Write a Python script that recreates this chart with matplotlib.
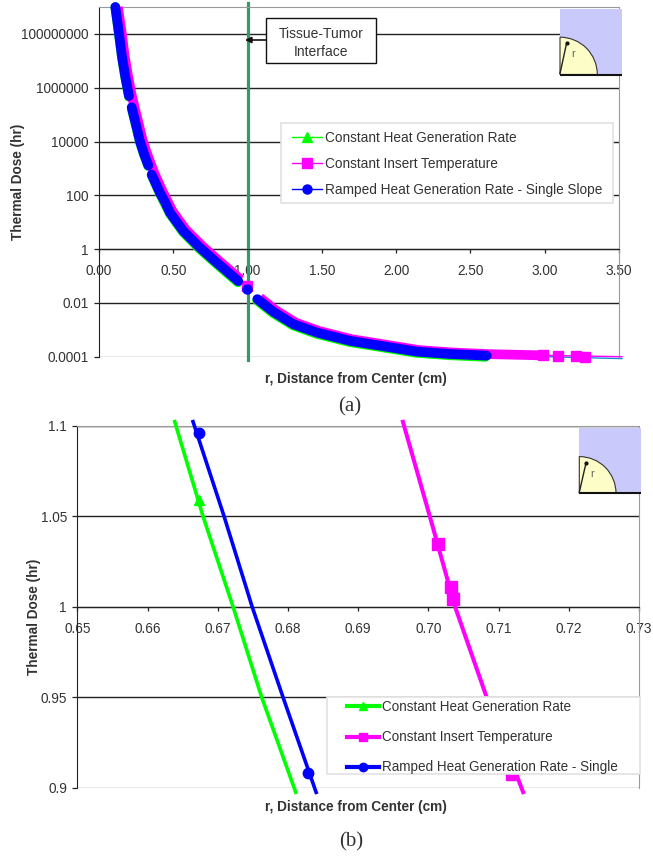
import numpy as np
import matplotlib
matplotlib.use("Agg")
import matplotlib.pyplot as plt
from matplotlib.lines import Line2D
from matplotlib.patches import Rectangle, Wedge
from matplotlib.ticker import NullLocator

plt.rcParams['font.family'] = ['Liberation Sans', 'DejaVu Sans']

W, H = 653, 858
GREEN, MAGENTA, BLUE = "#00ff00", "#ff00ff", "#0000ff"
LABELS_A = ["Constant Heat Generation Rate", "Constant Insert Temperature",
            "Ramped Heat Generation Rate - Single Slope"]
LABELS_B = ["Constant Heat Generation Rate", "Constant Insert Temperature",
            "Ramped Heat Generation Rate - Single"]

# panel (a); log10 of dose, nan marks a gap in the markers
r_a_blue = [0.110, 0.1346, 0.1548, 0.177, 0.2019, np.nan, 0.2201, 0.249, 0.276, 0.3049, 0.3318, np.nan,
            0.3547, 0.4106, 0.4442, 0.4779, 0.5674, 0.6798, 0.7922, 0.9376, np.nan,
            1.0655, 1.1732, 1.3078, 1.4653, 1.6894, 1.9136, 2.1384, 2.3625, 2.6095]
log_a_blue = [9.0, 8.01, 7.15, 6.41, 5.69, np.nan, 5.27, 4.62, 4.0, 3.51, 3.11, np.nan,
              2.77, 2.09, 1.75, 1.35, 0.67, 0.05, -0.5, -1.19, np.nan,
              -1.86, -2.33, -2.79, -3.10, -3.41, -3.61, -3.81, -3.90, -3.96]
r_a_magenta = [0.127, 0.152, 0.172, 0.194, 0.219, 0.237, 0.266, 0.293, 0.322, 0.349, 0.372, 0.428,
               0.495, 0.584, 0.697, 0.809, 0.955, np.nan,
               1.083, 1.19, 1.325, 1.482, 1.706, 1.931, 2.155, 2.38, 2.627, 2.98]
log_a_magenta = [9.0, 8.07, 7.2, 6.47, 5.75, 5.33, 4.68, 4.06, 3.57, 3.17, 2.83, 2.145,
                 1.405, 0.725, 0.105, -0.445, -1.135, np.nan,
                 -1.805, -2.275, -2.735, -3.045, -3.355, -3.555, -3.755, -3.845, -3.905, -3.95]
r_a_green = [0.109, 0.134, 0.154, 0.176, 0.201, np.nan, 0.219, 0.248, 0.275, 0.304, 0.331, np.nan,
             0.354, 0.409, 0.476, 0.565, 0.678, 0.79, 0.935, np.nan,
             1.063, 1.17, 1.305, 1.462, 1.686, 1.911, 2.135, 2.36, 2.60]
log_a_green = [9.0, 7.98, 7.12, 6.38, 5.66, np.nan, 5.24, 4.59, 3.97, 3.48, 3.08, np.nan,
               2.74, 2.06, 1.32, 0.63, 0.0, -0.55, -1.24, np.nan,
               -1.91, -2.38, -2.84, -3.15, -3.46, -3.66, -3.86, -3.95, -4.01]
r_a_squares = [0.996, 2.99, 3.09, 3.21, 3.27]
log_a_squares = [-1.39, -3.95, -3.97, -3.99, -4.0]
r_a_dots = [0.9962]
log_a_dots = [-1.49]
r_a_tail = [2.62, 3.0, 3.52]
log_a_tail_magenta = [-3.9, -3.95, -4.0]
log_a_tail_blue = [-3.96, -4.0, -4.07]
interface_r = [1.0, 1.0]
interface_log = [-4.11, 9.14]
xticks_a = [0.0, 0.5, 1.0, 1.5, 2.0, 2.5, 3.0, 3.5]
yticks_a = [1e8, 1e6, 1e4, 100, 1, 0.01, 0.0001]
ylabels_a = ["100000000", "1000000", "10000", "100", "1", "0.01", "0.0001"]

# panel (b)
dose_b = [1.1032, 1.05, 1.0, 0.95, 0.8965]
r_b_green = [0.6638, 0.6679, 0.67218, 0.67626, 0.6812]
r_b_blue = [0.6664, 0.6709, 0.6749, 0.6793, 0.6841]
r_b_magenta = [0.6963, 0.7002, 0.7038, 0.7083, 0.7136]
r_b_green_pts, dose_b_green_pts = [0.6673], [1.059]
r_b_blue_pts, dose_b_blue_pts = [0.6673, 0.6828], [1.096, 0.9083]
r_b_magenta_pts, dose_b_magenta_pts = [0.7014, 0.7032, 0.7035, 0.7119], [1.0347, 1.0107, 1.0043, 0.9077]
xticks_b = [0.65, 0.66, 0.67, 0.68, 0.69, 0.70, 0.71, 0.72, 0.73]
yticks_b = [1.1, 1.05, 1.0, 0.95, 0.9]
ylabels_b = ["1.1", "1.05", "1", "0.95", "0.9"]


def px_axes(fig, left, top, right, bottom):
    return fig.add_axes([left / W, 1 - bottom / H, (right - left) / W, (bottom - top) / H])


def style_axes(ax, xticks, yticks, ylabels):
    ax.set_xticks(xticks)
    ax.set_xticklabels([f"{t:.2f}" for t in xticks])
    ax.set_yticks(yticks)
    ax.set_yticklabels(ylabels)
    ax.yaxis.set_minor_locator(NullLocator())
    ax.xaxis.set_minor_locator(NullLocator())
    ax.set_axisbelow(True)
    ax.grid(axis='y', color="#222222", linewidth=1.0)
    ax.yaxis.get_gridlines()[-1].set_color("#8a8a8a")
    ax.spines['bottom'].set_position(('data', 1))
    ax.spines['bottom'].set_color("#222222")
    ax.spines['left'].set_color("#222222")
    for side in ['top', 'right']:
        ax.spines[side].set_color("#9a9a9a")
    ax.tick_params(axis='x', length=3, width=0.9, pad=8, labelsize=9.8, labelcolor="#333333", color="#222222")
    ax.tick_params(axis='y', length=3.5, width=0.9, pad=4, labelsize=9.8, labelcolor="#333333", color="#222222")


def draw_inset(ov, left, top, right, bottom, radius, tip):
    ov.add_patch(Rectangle((left, top), right - left, bottom - top, facecolor="#c9c9fb", edgecolor="none"))
    # y axis is flipped, so the quarter sits between -90 and 0 degrees
    ov.add_patch(Wedge((left, bottom), radius, -90, 0, facecolor="#fdfdc8", edgecolor="#333333", linewidth=0.8))
    ov.plot([left, right], [bottom, bottom], color="#111111", linewidth=1.5, solid_capstyle='butt')
    ov.plot([left, tip[0]], [bottom - 1, tip[1]], color="#222222", linewidth=1.0)
    ov.plot(tip[0], tip[1], 'o', color="#111111", markersize=2)
    ov.text(tip[0] + 6, tip[1] + 11, "r", fontsize=8, color="#666666", ha='center', va='center')


def draw_legend(ov, box, handles, labels, anchor, spacing, handlelen, size):
    ov.add_patch(Rectangle((box[0], box[1]), box[2] - box[0], box[3] - box[1], facecolor="white",
                           edgecolor="#e2e2e2", linewidth=1.2))
    leg = ov.legend(handles, labels, loc='upper left', bbox_to_anchor=anchor, bbox_transform=ov.transData,
                    frameon=False, borderpad=0, borderaxespad=0, fontsize=size, labelspacing=spacing,
                    handlelength=handlelen, handletextpad=0.2, labelcolor="#333333")
    return leg


fig = plt.figure(figsize=(W / 100, H / 100), dpi=100, facecolor="white")

# panel (a)
ax_a = px_axes(fig, 99, 7, 619, 356.7)
ax_a.set_yscale('log')
ax_a.set_xlim(0, 3.5)
ax_a.set_ylim(1e-4, 1e9)
style_axes(ax_a, xticks_a, yticks_a, ylabels_a)
ax_a.plot(interface_r, 10.0 ** np.array(interface_log), color="#36996b", linewidth=2.3, clip_on=False, zorder=2)
ax_a.plot(r_a_tail, 10.0 ** np.array(log_a_tail_blue), color="#1a8fd0", linewidth=1, clip_on=False, zorder=3)
ax_a.plot(r_a_tail, 10.0 ** np.array(log_a_tail_magenta), color=MAGENTA, linewidth=1, clip_on=False, zorder=3)
ax_a.plot(r_a_green, 10.0 ** np.array(log_a_green), color=GREEN, linewidth=6.8, clip_on=False,
          solid_capstyle='round', zorder=3)
ax_a.plot(r_a_magenta, 10.0 ** np.array(log_a_magenta), color=MAGENTA, linewidth=7, clip_on=False,
          solid_capstyle='butt', zorder=4)
ax_a.plot(r_a_squares, 10.0 ** np.array(log_a_squares), 's', color=MAGENTA, markersize=7.2, clip_on=False, zorder=4)
ax_a.plot(r_a_blue, 10.0 ** np.array(log_a_blue), color=BLUE, linewidth=7, clip_on=False,
          solid_capstyle='round', zorder=5)
ax_a.plot(r_a_dots, 10.0 ** np.array(log_a_dots), 'o', color=BLUE, markersize=6.5, clip_on=False, zorder=5)

# panel (b)
ax_b = px_axes(fig, 77.3, 425.7, 639, 787.7)
ax_b.set_xlim(0.65, 0.73)
ax_b.set_ylim(0.9, 1.1)
style_axes(ax_b, xticks_b, yticks_b, ylabels_b)
ax_b.plot(r_b_green, dose_b, color=GREEN, linewidth=2.6, clip_on=False, solid_capstyle='butt', zorder=3)
ax_b.plot(r_b_blue, dose_b, color=BLUE, linewidth=2.6, clip_on=False, solid_capstyle='butt', zorder=3)
ax_b.plot(r_b_magenta, dose_b, color=MAGENTA, linewidth=2.9, clip_on=False, solid_capstyle='butt', zorder=3)
ax_b.plot(r_b_green_pts, dose_b_green_pts, '^', color=GREEN, markersize=7.5, clip_on=False, zorder=4)
ax_b.plot(r_b_blue_pts, dose_b_blue_pts, 'o', color=BLUE, markersize=7.5, clip_on=False, zorder=4)
ax_b.plot(r_b_magenta_pts, dose_b_magenta_pts, 's', color=MAGENTA, markersize=8, clip_on=False, zorder=4)

# overlay in image pixels for the boxes, legends, insets and captions
ov = fig.add_axes([0, 0, 1, 1], zorder=10)
ov.set_xlim(0, W)
ov.set_ylim(H, 0)
ov.axis('off')

draw_inset(ov, 560, 8.7, 621.7, 74.5, 37.3, (566.7, 42.7))
draw_inset(ov, 579.3, 427.7, 640.7, 493.3, 36.7, (586, 463))

ov.add_patch(Rectangle((266, 18.3), 109.7, 44.4, facecolor="white", edgecolor="#111111", linewidth=1.0))
ov.text(321, 43, "Tissue-Tumor\nInterface", fontsize=10, color="#333333", ha='center', va='center', linespacing=1.3)
ov.annotate("", xy=(245, 40), xytext=(266, 40),
            arrowprops=dict(arrowstyle='-|>', color="#111111", linewidth=1.2, mutation_scale=9, shrinkA=0, shrinkB=0))

handles_a = [Line2D([], [], color=GREEN, marker='^', markersize=6.5, linewidth=1),
             Line2D([], [], color=MAGENTA, marker='s', markersize=6.5, linewidth=1),
             Line2D([], [], color=BLUE, marker='o', markersize=6.5, linewidth=1)]
handles_b = [Line2D([], [], color=GREEN, marker='^', markersize=6, linewidth=3),
             Line2D([], [], color=MAGENTA, marker='s', markersize=6, linewidth=3),
             Line2D([], [], color=BLUE, marker='o', markersize=6, linewidth=3)]
leg_a = draw_legend(ov, (281.3, 122.7, 613.3, 203.3), handles_a, LABELS_A, (292, 131), 0.88, 2.2, 9.85)
ov.add_artist(leg_a)
draw_legend(ov, (326.7, 697.3, 640, 774), handles_b, LABELS_B, (346.7, 700), 1.2, 2.4, 9.75)

ov.text(18, 182, "Thermal Dose (hr)", fontsize=9.8, fontweight='bold', color="#333333", rotation=90, ha='center', va='center')
ov.text(34, 617, "Thermal Dose (hr)", fontsize=9.8, fontweight='bold', color="#333333", rotation=90, ha='center', va='center')
ov.text(356, 378.5, "r, Distance from Center (cm)", fontsize=9.8, fontweight='bold', color="#333333", ha='center', va='center')
ov.text(356, 806.5, "r, Distance from Center (cm)", fontsize=9.8, fontweight='bold', color="#333333", ha='center', va='center')
ov.text(350, 406.5, "(a)", fontsize=15, family='Liberation Serif', color="#333333", ha='center', va='center')
ov.text(351, 841.5, "(b)", fontsize=15, family='Liberation Serif', color="#333333", ha='center', va='center')

fig.savefig("out.png", dpi=100, facecolor="white")
plt.close(fig)
